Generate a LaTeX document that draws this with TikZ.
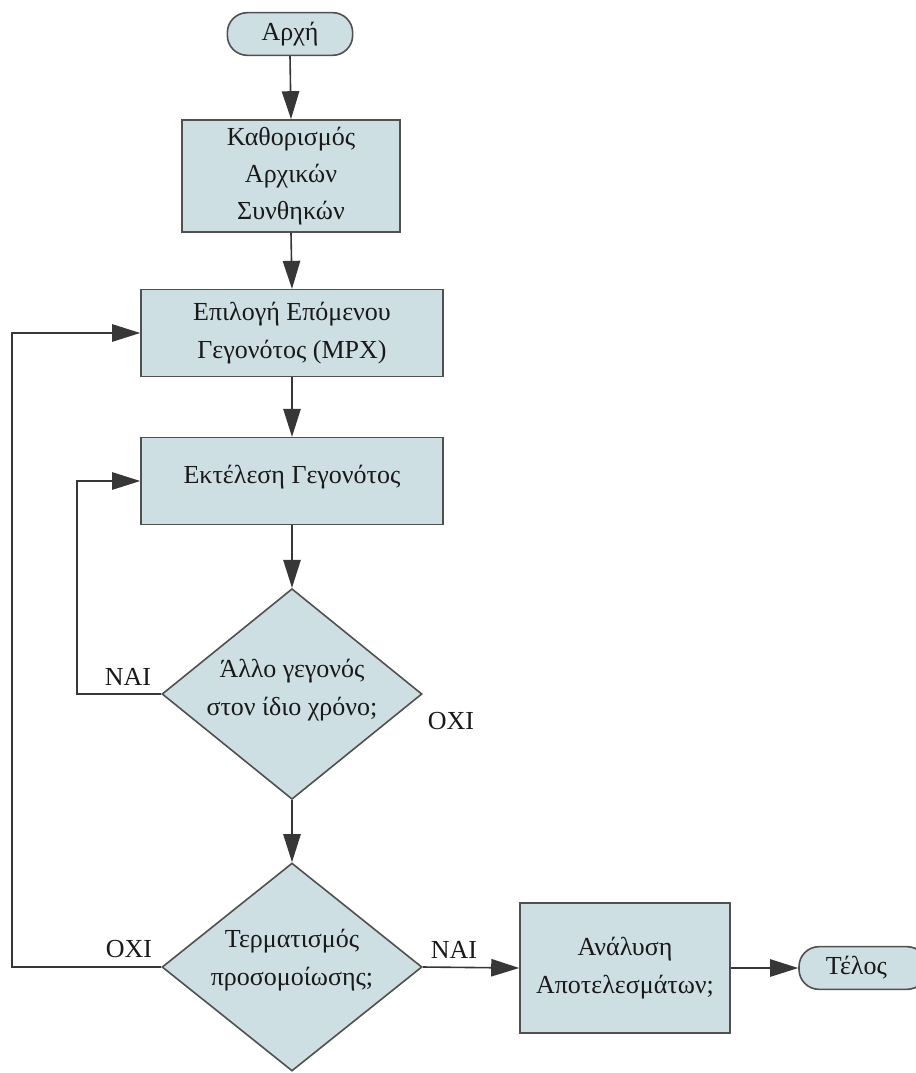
\documentclass[tikz,border=0pt]{standalone}
\usepackage{fontspec}
\setmainfont{Liberation Serif}
\usetikzlibrary{arrows.meta,shapes.geometric}
\definecolor{boxfill}{RGB}{206,223,228}
\definecolor{bordergray}{RGB}{80,80,80}
\definecolor{linecol}{RGB}{55,55,55}
\definecolor{txtcol}{RGB}{25,25,25}
\newcommand{\mainsize}{\fontsize{19.5}{28}\selectfont}
\tikzset{
  flowbox/.style={draw=bordergray, fill=boxfill, line width=1.2pt, inner sep=0pt,
    align=center, font=\mainsize, text=txtcol},
  termbox/.style={flowbox, rounded corners=15pt, minimum width=94pt, minimum height=32pt},
  decision/.style={diamond, draw=bordergray, fill=boxfill, line width=1.2pt, inner sep=0pt,
    minimum width=195pt, minimum height=158pt},
  dtext/.style={align=center, font=\mainsize, text=txtcol, inner sep=0pt},
  lbl/.style={font=\mainsize, text=txtcol, inner sep=0pt},
  conn/.style={draw=linecol, line width=1.2pt, -{Triangle[length=21pt,width=13pt]}},
}
\begin{document}
\begin{tikzpicture}[x=0.75pt,y=-0.75pt]
\useasboundingbox[fill=white] (0,0) rectangle (916,1073);
\node[termbox] (start) at (290,34) {Αρχή};
\node[flowbox, minimum width=163.5pt, minimum height=84pt] (b1) at (291,176) {Καθορισμός\\Αρχικών\\Συνθηκών};
\node[flowbox, minimum width=226.5pt, minimum height=65pt] (b2) at (292,333) {Επιλογή Επόμενου\\Γεγονότος (MPX)};
\node[flowbox, minimum width=226.5pt, minimum height=65pt] (b3) at (292,481) {};
\node[dtext] (b3t) at (292,477) {Εκτέλεση Γεγονότος};
\node[decision] (d1) at (292,694) {};
\node[dtext] (d1t) at (292,690) {Άλλο γεγονός\\στον ίδιο χρόνο;};
\node[decision, minimum height=156pt] (d2) at (292,967) {};
\node[dtext] (d2t) at (292,960) {Τερματισμός\\προσομοίωσης;};
\node[flowbox, minimum width=157.5pt, minimum height=97.5pt] (b4) at (625,968) {Ανάλυση\\Αποτελεσμάτων;};
\node[termbox, minimum width=96pt] (end) at (863,968) {Τέλος\hspace*{10pt}};

\coordinate (l1) at (77,0);
\coordinate (l2) at (12,0);

\draw[conn] (start.south) -- (b1.north);
\draw[conn] (b1.south) -- (b2.north);
\draw[conn] (b2.south) -- (b3.north);
\draw[conn] (b3.south) -- (d1.north);
\draw[conn] (d1.south) -- (d2.north);
\draw[conn] (d1.west) -- (d1.west -| l1) |- (b3.west);
\draw[conn] (d2.west) -- (d2.west -| l2) |- (b2.west);
\draw[conn] (d2.east) -- (b4.west);
\draw[conn] (b4.east) -- (end.west);

\node[lbl] (yes1) at (128,677) {ΝΑΙ};
\node[lbl] (no1) at (451,721) {ΟΧΙ};
\node[lbl] (no2) at (129,949) {ΟΧΙ};
\node[lbl] (yes2) at (454,950) {ΝΑΙ};
\end{tikzpicture}
\end{document}
